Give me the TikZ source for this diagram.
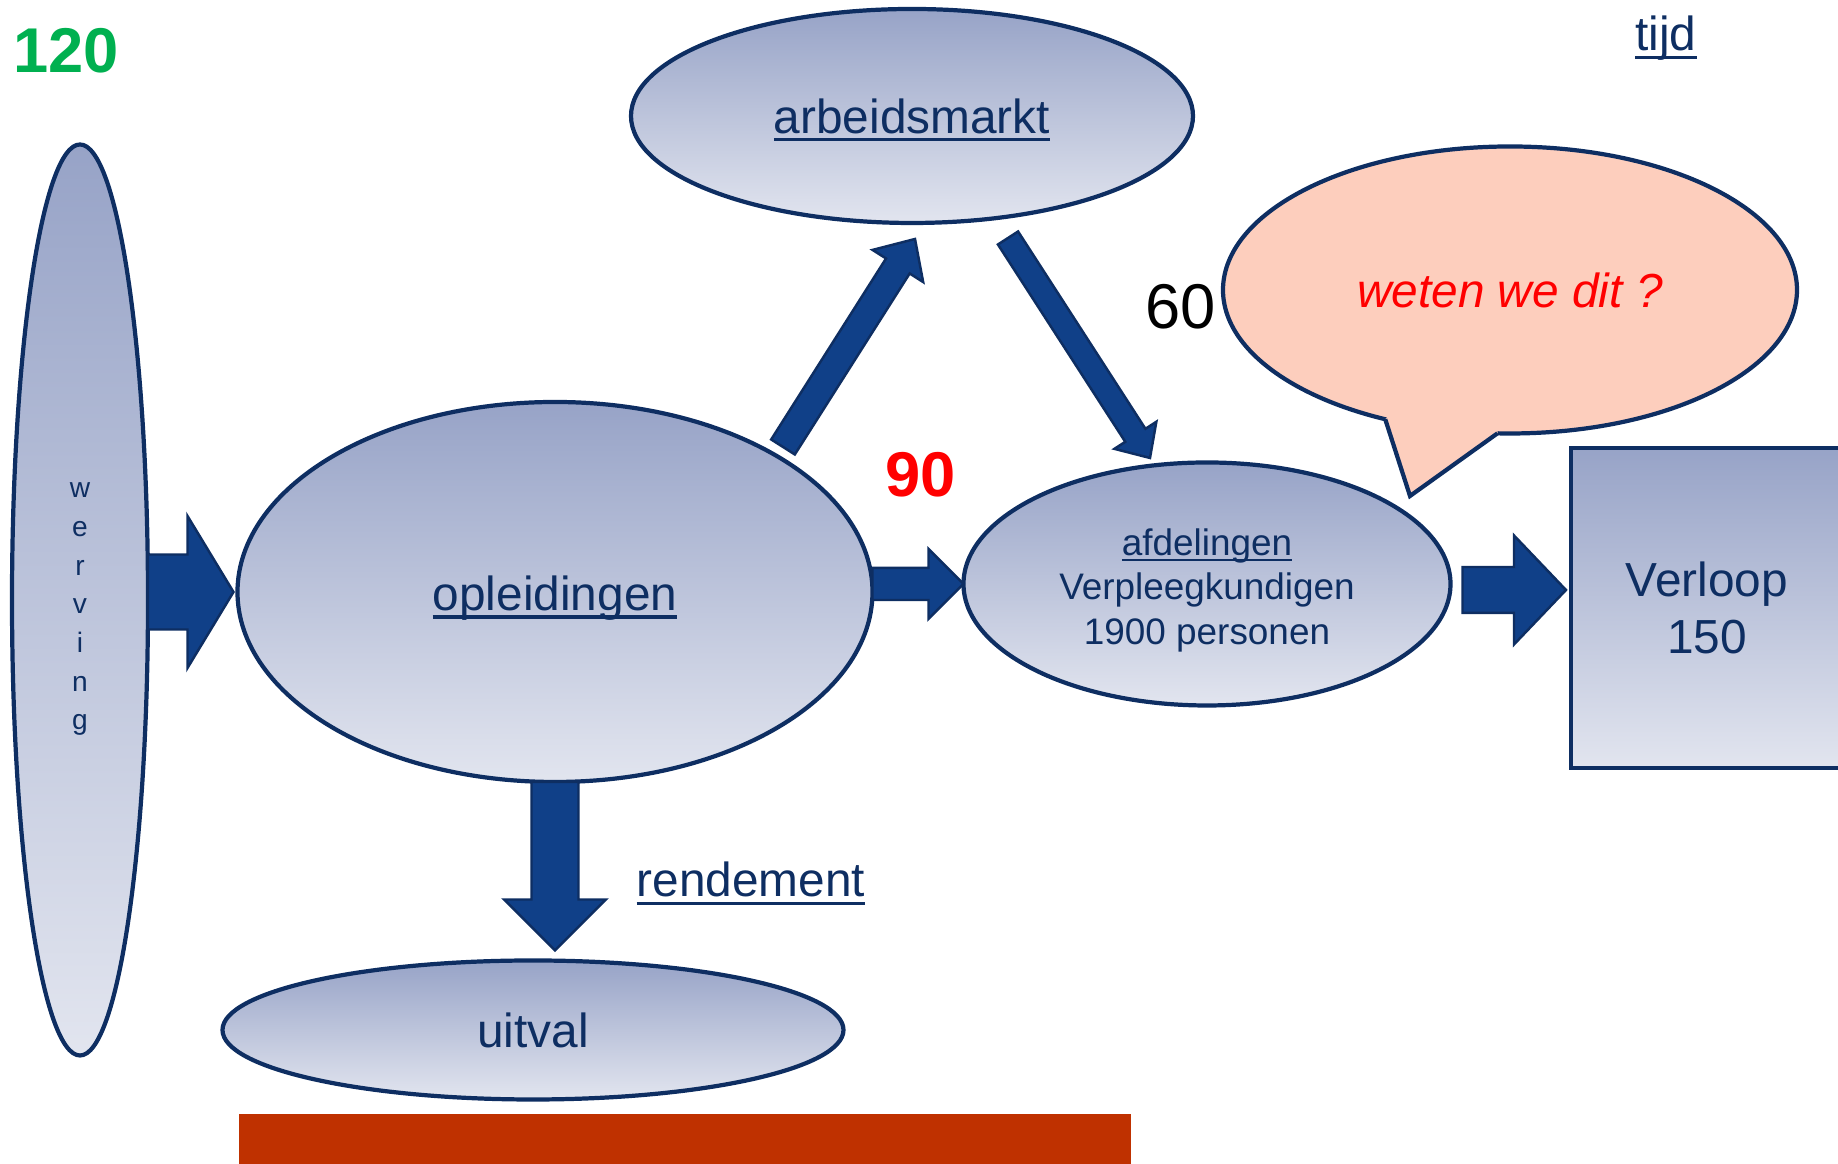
\documentclass[tikz,border=0pt]{standalone}
\usepackage{fontspec}
\setmainfont{Liberation Sans}
\usepackage{tikz}
\usetikzlibrary{positioning, calc, shapes.geometric}

\definecolor{navy}{RGB}{14,46,98}
\definecolor{arrowblue}{RGB}{16,64,136}
\definecolor{gtop}{RGB}{151,163,199}
\definecolor{gbot}{RGB}{226,229,239}
\definecolor{bubble}{RGB}{253,206,189}
\definecolor{numgreen}{RGB}{0,176,80}
\definecolor{barred}{RGB}{191,49,0}

% underline at a fixed depth
\newcommand{\undl}[1]{\setbox0\hbox{#1}\rlap{\smash{\rule[-0.17em]{\wd0}{0.065em}}}\box0}
% invisible strut to push a node's text down a bit
\newcommand{\topstrut}[1]{\rule{0pt}{#1}}

% block arrow: tail, tip, shaft half width, head half width, head length
\newcommand{\blockarrow}[5]{%
  \path ($(#2)!#5!(#1)$) coordinate (hb);
  \draw[blockarr] ($(#1)!#3!90:(#2)$) -- ($(hb)!#3!-90:(#1)$)
    -- ($(hb)!#4!-90:(#1)$) -- (#2) -- ($(hb)!#4!90:(#1)$)
    -- ($(hb)!#3!90:(#1)$) -- ($(#1)!#3!-90:(#2)$) -- cycle;}

\tikzset{
  blob/.style={ellipse, draw=navy, line width=1.2pt, top color=gtop, bottom color=gbot,
    inner sep=0pt, outer sep=0pt, text=navy, font=\fontsize{13.6}{16}\selectfont},
  blockarr/.style={draw=navy, fill=arrowblue, line width=0.7pt, line join=miter},
  num/.style={font=\fontsize{18}{20}\selectfont},
  lbl/.style={text=navy, font=\fontsize{13.6}{16}\selectfont, anchor=base},
}

\begin{document}
\begin{tikzpicture}
\useasboundingbox (0,0) rectangle (18.38,11.64);
\clip (0,0) rectangle (18.38,11.64);

% main blobs
\node[blob, minimum width=1.36cm, minimum height=9.11cm, align=center,
  font=\fontsize{8}{11}\selectfont] (werv) at (0.80,5.64)
  {\topstrut{9.6pt}w\\e\\r\\v\\i\\n\\g};
\node[blob, minimum width=6.35cm, minimum height=3.80cm] (opl) at (5.55,5.72)
  {\topstrut{13.3pt}\undl{opleidingen}};
\node[blob, minimum width=5.62cm, minimum height=2.14cm] (arb) at (9.12,10.48) {\undl{arbeidsmarkt}};
\node[blob, minimum width=4.87cm, minimum height=2.43cm, align=center,
  font=\fontsize{10.5}{12.7}\selectfont] (afd) at (12.07,5.80)
  {\topstrut{11.1pt}\undl{afdelingen}\\Verpleegkundigen\\1900 personen};
\node[blob, minimum width=6.21cm, minimum height=1.39cm] (uit) at (5.33,1.34) {uitval};
\node[blob, rectangle, minimum width=2.72cm, minimum height=3.20cm, align=center,
  font=\fontsize{13.6}{16.2}\selectfont] (ver) at (17.07,5.56) {Verloop\\150};

% speech bubble
\node[ellipse, draw=navy, line width=1.2pt, fill=bubble, minimum width=5.74cm,
  minimum height=2.87cm, inner sep=0pt, outer sep=0pt, text=red,
  font=\fontsize{13.6}{16}\selectfont\itshape] (bub) at (15.10,8.74) {weten we dit ?};
\coordinate (tailA) at (bub.226.8);
\coordinate (tailB) at (bub.265.2);
\coordinate (tailtip) at ($(bub.center)+(-1.00,-2.06)$);
\fill[bubble] (tailA) -- (tailtip) -- (tailB) -- ($(bub.center)!0.9!(tailB)$)
  -- ($(bub.center)!0.9!(tailA)$) -- cycle;
\draw[navy, line width=1.2pt, line join=miter] (tailA) -- (tailtip) -- (tailB);

% numbers and labels
\node[num, text=numgreen] (n120) at (0.66,11.13) {\bfseries 120};
\node[num, text=red] (n90) at (9.21,6.89) {\bfseries 90};
\node[num] (n60) at (11.81,8.57) {60};
\node[lbl] (tijd) at (16.66,11.13) {\undl{tijd}};
\node[lbl] (rend) at (7.51,2.67) {\undl{rendement}};

% bar at the bottom
\fill[barred] (2.39,-0.1) rectangle (11.31,0.50);

% arrows
\coordinate (w1) at (werv.east |- opl.west);
\coordinate (w2) at ($(opl.west)+(-0.04,0)$);
\blockarrow{w1}{w2}{0.375cm}{0.76cm}{0.46cm}

\coordinate (o1) at (opl.east |- afd.west);
\coordinate (o2) at (afd.west);
\blockarrow{o1}{o2}{0.16cm}{0.35cm}{0.35cm}

\coordinate (f1) at ($(afd.east)+(0.12,-0.06)$);
\coordinate (f2) at ($(ver.west |- f1)+(-0.05,0)$);
\blockarrow{f1}{f2}{0.23cm}{0.545cm}{0.52cm}

\coordinate (a1) at ($(opl.center)+(2.28,1.45)$);
\coordinate (a2) at ($(arb.south)+(0.03,-0.16)$);
\blockarrow{a1}{a2}{0.14cm}{0.30cm}{0.32cm}

\coordinate (b1) at ($(arb.center)+(0.96,-1.22)$);
\coordinate (b2) at ($(afd.center)+(-0.57,1.26)$);
\blockarrow{b1}{b2}{0.12cm}{0.25cm}{0.27cm}

\coordinate (d1) at (opl.south);
\coordinate (d2) at ($(opl.south |- uit.north)+(0,0.10)$);
\blockarrow{d1}{d2}{0.235cm}{0.51cm}{0.51cm}
\end{tikzpicture}
\end{document}
